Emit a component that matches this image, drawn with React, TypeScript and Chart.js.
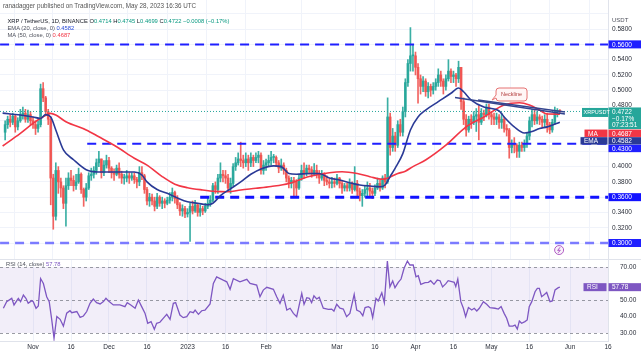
import React, { useEffect, useRef } from "react";
import { Chart, registerables } from "chart.js";
Chart.register(...registerables);

const FONT = "'Liberation Sans', Arial, sans-serif";

// day index: 0 = 2022-11-01 ; first candle 2022-10-21
const FIRST_DAY = -11;
const FIRST_OPEN = 0.445;
const closes = [
  0.455, 0.462, 0.458, 0.466, 0.452, 0.46, 0.468, 0.47, 0.462, 0.468, 0.46,
  0.455, 0.45, 0.455, 0.502, 0.49, 0.472, 0.462, 0.385, 0.335, 0.395,
  0.38, 0.372, 0.352, 0.375, 0.385, 0.382, 0.375, 0.38, 0.39, 0.37,
  0.36, 0.372, 0.388, 0.39, 0.395, 0.405, 0.41, 0.392, 0.402, 0.408,
  0.398, 0.392, 0.39, 0.398, 0.39, 0.385, 0.385, 0.388, 0.385, 0.388,
  0.383, 0.38, 0.392, 0.388, 0.37, 0.355, 0.36, 0.355, 0.348, 0.36,
  0.352, 0.355, 0.352, 0.356, 0.36, 0.366, 0.358, 0.35, 0.342, 0.345,
  0.338, 0.34, 0.348, 0.342, 0.35, 0.34, 0.345, 0.342, 0.348, 0.352,
  0.356, 0.375, 0.37, 0.385, 0.39, 0.388, 0.385, 0.372, 0.378, 0.4,
  0.405, 0.41, 0.408, 0.405, 0.41, 0.405, 0.412, 0.408, 0.412, 0.415,
  0.395, 0.402, 0.405, 0.408, 0.412, 0.412, 0.405, 0.398, 0.402, 0.395,
  0.385, 0.378, 0.382, 0.38, 0.372, 0.385, 0.395, 0.392, 0.398, 0.396,
  0.39, 0.395, 0.39, 0.385, 0.39, 0.382, 0.38, 0.378, 0.38, 0.378,
  0.385, 0.378, 0.372, 0.375, 0.372, 0.378, 0.37, 0.378, 0.368, 0.362,
  0.365, 0.37, 0.372, 0.368, 0.365, 0.372, 0.378, 0.372, 0.385, 0.38,
  0.465, 0.425, 0.44, 0.428, 0.455, 0.445, 0.472, 0.51, 0.535, 0.545,
  0.545, 0.53, 0.515, 0.505, 0.512, 0.498, 0.505, 0.5, 0.505, 0.51,
  0.52, 0.512, 0.505, 0.515, 0.525, 0.518, 0.52, 0.515, 0.53, 0.485,
  0.462, 0.448, 0.462, 0.458, 0.466, 0.468, 0.458, 0.47, 0.468, 0.478,
  0.468, 0.465, 0.462, 0.465, 0.458, 0.462, 0.45, 0.448, 0.425, 0.43,
  0.428, 0.42, 0.428, 0.425, 0.43, 0.44, 0.46, 0.468, 0.46, 0.465,
  0.462, 0.458, 0.462, 0.455, 0.448, 0.458, 0.472, 0.473, 0.4722,
];
const highs = [
  0.46, 0.466, 0.468, 0.47, 0.468, 0.464, 0.475, 0.478, 0.475, 0.474, 0.472,
  0.465, 0.46, 0.46, 0.508, 0.51, 0.492, 0.475, 0.465, 0.39, 0.405,
  0.4, 0.385, 0.375, 0.385, 0.392, 0.395, 0.388, 0.39, 0.398, 0.392,
  0.372, 0.378, 0.392, 0.398, 0.4, 0.41, 0.42, 0.41, 0.408, 0.415,
  0.412, 0.4, 0.397, 0.402, 0.405, 0.394, 0.39, 0.395, 0.392, 0.392,
  0.392, 0.386, 0.4, 0.4, 0.39, 0.373, 0.365, 0.364, 0.36, 0.365,
  0.362, 0.36, 0.358, 0.36, 0.366, 0.372, 0.368, 0.362, 0.353, 0.35,
  0.348, 0.345, 0.352, 0.355, 0.356, 0.352, 0.35, 0.348, 0.352, 0.36,
  0.362, 0.378, 0.38, 0.39, 0.405, 0.395, 0.395, 0.39, 0.385, 0.404,
  0.412, 0.418, 0.432, 0.415, 0.418, 0.415, 0.418, 0.415, 0.418, 0.42,
  0.418, 0.408, 0.41, 0.415, 0.42, 0.416, 0.414, 0.408, 0.41, 0.405,
  0.398, 0.388, 0.386, 0.386, 0.383, 0.39, 0.402, 0.405, 0.402, 0.402,
  0.4, 0.404, 0.402, 0.395, 0.395, 0.392, 0.388, 0.384, 0.386, 0.385,
  0.39, 0.386, 0.382, 0.378, 0.378, 0.384, 0.38, 0.4, 0.382, 0.372,
  0.37, 0.375, 0.38, 0.378, 0.372, 0.376, 0.385, 0.382, 0.388, 0.39,
  0.49, 0.47, 0.45, 0.445, 0.46, 0.462, 0.478, 0.515, 0.54, 0.582,
  0.56, 0.55, 0.535, 0.52, 0.518, 0.515, 0.51, 0.508, 0.51, 0.515,
  0.528, 0.525, 0.515, 0.52, 0.54, 0.528, 0.525, 0.522, 0.538, 0.53,
  0.49, 0.468, 0.466, 0.468, 0.472, 0.476, 0.48, 0.476, 0.474, 0.482,
  0.482, 0.472, 0.47, 0.47, 0.468, 0.47, 0.465, 0.455, 0.45, 0.435,
  0.438, 0.43, 0.432, 0.432, 0.435, 0.445, 0.465, 0.475, 0.475, 0.472,
  0.468, 0.466, 0.468, 0.47, 0.458, 0.462, 0.478, 0.476, 0.4745,
];
const lows = [
  0.435, 0.45, 0.452, 0.455, 0.445, 0.448, 0.458, 0.462, 0.458, 0.458, 0.455,
  0.45, 0.442, 0.445, 0.452, 0.485, 0.468, 0.455, 0.35, 0.318, 0.33,
  0.365, 0.36, 0.345, 0.322, 0.37, 0.375, 0.368, 0.37, 0.378, 0.365,
  0.348, 0.355, 0.37, 0.382, 0.385, 0.39, 0.4, 0.385, 0.388, 0.398,
  0.392, 0.385, 0.382, 0.388, 0.385, 0.378, 0.377, 0.38, 0.378, 0.382,
  0.378, 0.372, 0.375, 0.383, 0.365, 0.35, 0.348, 0.35, 0.342, 0.345,
  0.348, 0.345, 0.346, 0.35, 0.352, 0.355, 0.352, 0.345, 0.336, 0.335,
  0.333, 0.334, 0.302, 0.338, 0.34, 0.335, 0.335, 0.337, 0.34, 0.345,
  0.348, 0.354, 0.365, 0.365, 0.38, 0.38, 0.378, 0.368, 0.365, 0.375,
  0.395, 0.402, 0.4, 0.398, 0.4, 0.395, 0.4, 0.4, 0.405, 0.405,
  0.39, 0.39, 0.395, 0.4, 0.402, 0.405, 0.4, 0.392, 0.395, 0.39,
  0.38, 0.372, 0.372, 0.362, 0.36, 0.37, 0.382, 0.385, 0.388, 0.39,
  0.386, 0.388, 0.385, 0.378, 0.382, 0.375, 0.376, 0.372, 0.372, 0.373,
  0.376, 0.372, 0.365, 0.368, 0.368, 0.368, 0.365, 0.368, 0.362, 0.355,
  0.348, 0.36, 0.362, 0.36, 0.358, 0.362, 0.37, 0.368, 0.37, 0.372,
  0.378, 0.415, 0.42, 0.42, 0.425, 0.44, 0.44, 0.465, 0.505, 0.525,
  0.525, 0.52, 0.483, 0.495, 0.498, 0.492, 0.49, 0.492, 0.495, 0.5,
  0.505, 0.505, 0.495, 0.5, 0.512, 0.51, 0.51, 0.505, 0.51, 0.475,
  0.455, 0.44, 0.445, 0.45, 0.455, 0.446, 0.435, 0.455, 0.46, 0.465,
  0.462, 0.455, 0.455, 0.455, 0.45, 0.45, 0.445, 0.44, 0.411, 0.418,
  0.418, 0.412, 0.412, 0.42, 0.42, 0.425, 0.435, 0.452, 0.455, 0.456,
  0.455, 0.452, 0.452, 0.445, 0.443, 0.445, 0.455, 0.465, 0.4699,
];

const emaDays = [-12, -5, 0, 3, 5, 7, 9, 12, 16, 21, 26, 33, 40, 43, 45, 49, 53, 57, 61, 65, 69, 71, 74, 78, 82, 86, 90, 95, 98, 101, 104, 109, 113, 117, 121, 125, 129, 133, 137, 139, 141, 143, 146, 149, 152, 155, 160, 165, 168, 170, 173, 178, 184, 186, 190, 194, 197, 200, 203, 208];
const emaVals = [0.47, 0.4675, 0.465, 0.463, 0.468, 0.465, 0.448, 0.422, 0.409, 0.396, 0.393, 0.393, 0.393, 0.389, 0.38, 0.37, 0.365, 0.359, 0.354, 0.352, 0.35, 0.352, 0.362, 0.371, 0.38, 0.39, 0.397, 0.401, 0.4, 0.391, 0.39, 0.391, 0.391, 0.385, 0.3825, 0.379, 0.376, 0.3746, 0.3737, 0.376, 0.387, 0.398, 0.417, 0.448, 0.465, 0.474, 0.485, 0.496, 0.503, 0.498, 0.487, 0.478, 0.473, 0.465, 0.452, 0.444, 0.446, 0.45, 0.452, 0.4582];
const maDays = [-12, -5, 0, 4, 7, 9, 13, 21, 26, 33, 40, 45, 51, 56, 61, 67, 72, 77, 82, 88, 94, 101, 109, 117, 122, 128, 133, 138, 144, 147, 150, 155, 163, 171, 178, 186, 192, 196, 200, 203, 208];
const maVals = [0.427, 0.4436, 0.4567, 0.4653, 0.4697, 0.4675, 0.4588, 0.448, 0.439, 0.426, 0.411, 0.402, 0.387, 0.377, 0.3724, 0.3694, 0.3676, 0.3671, 0.3694, 0.3716, 0.374, 0.378, 0.387, 0.392, 0.3933, 0.391, 0.3868, 0.3834, 0.391, 0.394, 0.4, 0.4086, 0.428, 0.452, 0.465, 0.4806, 0.4836, 0.4806, 0.474, 0.4688, 0.4687];

const rsiDays = [-11.7, -10.4, -8.4, -7.5, -5.8, -4.9, -3.8, -2.8, -1.9, -0.5, 0.1, 1.2, 2.1, 3.0, 4.1, 5.4, 6.4, 7.4, 8.3, 9.4, 10.7, 12.0, 13.3, 14.6, 15.3, 17.3, 18.6, 19.9, 21.2, 22.5, 23.8, 25.1, 26.5, 27.8, 28.8, 29.7, 31.7, 34.3, 36.3, 37.2, 38.6, 40.3, 41.6, 42.9, 44.2, 45.3, 46.6, 47.9, 48.8, 50.1, 51.4, 52.8, 54.1, 55.4, 56.3, 58.0, 59.3, 60.7, 62.0, 63.3, 64.0, 65.3, 66.6, 67.9, 69.9, 71.2, 72.5, 75.1, 76.5, 77.8, 79.1, 81.7, 84.4, 85.7, 88.3, 89.6, 90.9, 92.3, 94.9, 96.2, 97.5, 98.8, 100.2,
  101.5, 102.8, 104.1, 106.1, 107.0, 108.1, 109.1, 110.0, 110.9, 112.0, 113.0, 114.6, 116.6, 117.9, 118.8, 119.9, 121.2, 122.5, 123.8, 125.1, 126.8, 127.8, 129.1, 130.2, 131.1, 132.4, 133.3, 134.1, 135.4, 136.3, 137.7, 138.7, 139.9, 140.9, 142.0, 142.9, 144.2, 145.3, 146.5, 147.8, 148.8, 150.1, 151.2, 152.1, 153.1, 154.8, 156.1, 157.0, 158.3, 159.6, 160.7, 161.7, 163.0, 163.9, 165.3, 166.3, 166.9, 167.7, 168.9, 169.9, 170.8, 171.9, 173.2, 174.2, 175.2, 176.2, 177.8, 179.1, 180.4, 182.4, 183.7, 184.8, 186.0, 187.0, 188.0, 189.4, 190.3, 191.2, 192.0, 192.9, 194.2, 195.1, 195.9, 196.9, 198.2, 199.1, 199.9, 200.8, 201.9, 202.8, 204.1, 205.0, 206.1, 207.4, 208.0];
const rsiVals = [45.0, 49, 51, 47, 51, 49, 53, 51, 48, 49.6, 49, 45, 46.4, 63, 60, 52, 49, 38, 26.8, 40, 38.3, 34.2, 42, 43.5, 42.3, 43, 39.5, 40.3, 43, 48, 50.6, 48.4, 47.6, 49, 51, 49.6, 47, 47, 46, 48.4, 47, 45, 50, 46, 42, 35.9, 36.9, 32.2, 35.9, 36.5, 38.9, 41.3, 38.3, 48, 48.4, 40.9, 39.3, 39.9, 42.9, 42.3, 43.9, 41.3, 43.5, 43.9, 47.6, 60, 64, 62, 61, 56.5, 63, 61, 62.5, 60, 59, 52, 56, 57.7, 56.5, 52, 48, 53, 43.9,
  45, 41.9, 39.9, 54, 47.4, 51.4, 51, 48.4, 52.6, 50.6, 51.6, 45, 44.3, 44.5, 43.3, 47.4, 45, 44.5, 39.9, 41.9, 53.4, 43.9, 42.9, 40.5, 45.4, 46, 45, 39.3, 51, 49.4, 54.4, 48.4, 73.6, 58, 61.5, 57.5, 60.7, 62.7, 69.2, 73.6, 71.2, 71.2, 64.1, 64.7, 59.5, 60.5, 60.7, 61.7, 59.5, 62.1, 61.7, 57.9, 59.9, 61.7, 61.1, 60.7, 58.1, 62.7, 49, 45, 39.9, 45.4, 43.9, 45, 43.3, 45, 49, 47.4, 45.4, 45, 44.5, 46, 41.9, 38.9, 34.2, 34.2, 34.8, 32.4, 37.3, 35.9, 36.9, 37.9, 46, 49, 55, 57.1, 57.1, 52, 53.4, 54.6, 49, 49.4, 56.1, 57.5, 57.78];

const levels = [0.56, 0.43, 0.36, 0.3];
const levelStart = [-13, 21.4, 66, -13];
const levelColors = ["#1f1fff", "#1f1fff", "#1212ff", "#7b7bff"];
const levelWidths = [2, 2, 3, 2.5];
const lastPrice = 0.4722;
const lastMA = 0.4687;
const lastEMA = 0.4582;
const lastRSI = 57.78;
const neckA = [[166.6, 0.4904], [210.0, 0.4689]];
const neckB = [[175.7, 0.4872], [210.0, 0.4715]];
const calloutAt = [182.8, 0.5029];
const eventAt = [207.7, 0.2908];

const xTickDays = [0, 15, 30, 45, 61, 76, 92, 120, 135, 151, 166, 181, 196, 212, 227];
const xTickLabels = ["Nov", "16", "Dec", "16", "2023", "16", "Feb", "Mar", "16", "Apr", "16", "May", "16", "Jun", "16"];
const priceTicks = [0.3, 0.32, 0.34, 0.36, 0.38, 0.4, 0.42, 0.44, 0.46, 0.48, 0.5, 0.52, 0.54, 0.56, 0.58, 0.6];
const hiddenPriceLabels = [0.42, 0.44, 0.46, 0.6];
const rsiTicks = [30, 40, 50, 60, 70];

const X_MIN = -13.03, X_MAX = 227.0;
const P_MIN = 0.27906, P_MAX = 0.6181;
const R_MIN = 25.15, R_MAX = 74.85;

const GREEN = "rgba(38,166,154,0.9)";
const RED = "rgba(239,83,80,0.9)";

function tag(ctx: CanvasRenderingContext2D, x: number, yc: number, w: number, h: number, bg: string, text: string, fg = "#fff") {
  ctx.fillStyle = bg;
  ctx.fillRect(x, yc - h / 2, w, h);
  ctx.fillStyle = fg;
  ctx.font = `6.5px ${FONT}`;
  ctx.textAlign = "left";
  ctx.textBaseline = "middle";
  ctx.fillText(text, x + 3.5, yc + 0.5);
}

const noPad = (s: any) => {
  s.paddingTop = 0;
  s.paddingBottom = 0;
  s.paddingLeft = 0;
  s.paddingRight = 0;
};

export default function App() {
  const mainRef = useRef<HTMLCanvasElement>(null);
  const rsiRef = useRef<HTMLCanvasElement>(null);

  useEffect(() => {
    const opens = closes.map((c, i) => (i === 0 ? FIRST_OPEN : closes[i - 1]));
    const colors = closes.map((c, i) => (c >= opens[i] ? GREEN : RED));
    const bodyData = closes.map((c, i) => ({ x: FIRST_DAY + i, y: [opens[i], c] }));
    const wickData = closes.map((c, i) => ({ x: FIRST_DAY + i, y: [lows[i], highs[i]] }));
    const emaData = emaDays.map((d, i) => ({ x: d, y: emaVals[i] }));
    const maData = maDays.map((d, i) => ({ x: d, y: maVals[i] }));
    const rsiData = rsiDays.map((d, i) => ({ x: d, y: rsiVals[i] }));

    const xGrid = {
      type: "linear" as const,
      min: X_MIN,
      max: X_MAX,
      offset: false,
      afterBuildTicks: (s: any) => { s.ticks = xTickDays.map((v) => ({ value: v })); },
      grid: { color: "#f0f3fa", drawTicks: false, lineWidth: 1 },
    };

    const mainPlugin = {
      id: "mainOverlay",
      afterDraw(chart: any) {
        const { ctx, scales } = chart;
        const x = scales.x, y = scales.y;
        ctx.save();
        // neckline callout
        const cx = x.getPixelForValue(calloutAt[0]);
        const cy = y.getPixelForValue(calloutAt[1]);
        ctx.beginPath();
        ctx.moveTo(cx + 3, cy);
        ctx.lineTo(cx + 28, cy);
        ctx.quadraticCurveTo(cx + 31, cy, cx + 31, cy + 3);
        ctx.lineTo(cx + 31, cy + 10);
        ctx.quadraticCurveTo(cx + 31, cy + 13, cx + 28, cy + 13);
        ctx.lineTo(cx + 3, cy + 13);
        ctx.quadraticCurveTo(cx, cy + 13, cx, cy + 10);
        ctx.lineTo(cx - 4, cy + 12);
        ctx.lineTo(cx, cy + 7);
        ctx.lineTo(cx, cy + 3);
        ctx.quadraticCurveTo(cx, cy, cx + 3, cy);
        ctx.closePath();
        ctx.fillStyle = "#fff6f6";
        ctx.fill();
        ctx.strokeStyle = "#e57373";
        ctx.lineWidth = 1;
        ctx.stroke();
        ctx.fillStyle = "#b23a3a";
        ctx.font = `5.5px ${FONT}`;
        ctx.textAlign = "center";
        ctx.textBaseline = "middle";
        ctx.fillText("Neckline", cx + 15.5, cy + 6.8);

        // event icon
        const ex = x.getPixelForValue(eventAt[0]);
        const ey = y.getPixelForValue(eventAt[1]);
        ctx.beginPath();
        ctx.arc(ex, ey, 4.5, 0, Math.PI * 2);
        ctx.fillStyle = "rgba(171,71,188,0.08)";
        ctx.fill();
        ctx.strokeStyle = "#b05cc4";
        ctx.lineWidth = 1;
        ctx.stroke();
        ctx.beginPath();
        ctx.moveTo(ex + 1, ey - 2.8);
        ctx.lineTo(ex - 1.5, ey + 0.4);
        ctx.lineTo(ex + 1.2, ey + 0.2);
        ctx.lineTo(ex - 1, ey + 2.8);
        ctx.stroke();

        // axis tags
        const AX = 608.5, AW = 32.5;
        tag(ctx, AX, y.getPixelForValue(0.56), AW, 8, "#1f1fff", "0.5600");
        tag(ctx, AX, y.getPixelForValue(0.36), AW, 8, "#1212ff", "0.3600");
        tag(ctx, AX, y.getPixelForValue(0.3), AW, 8, "#1f1fff", "0.3000");
        const yp = y.getPixelForValue(lastPrice);
        ctx.fillStyle = "#26a69a";
        ctx.fillRect(AX, yp - 4, AW, 21.6);
        ctx.fillRect(582, yp - 3.5, 26, 9);
        ctx.fillStyle = "#fff";
        ctx.font = `6.5px ${FONT}`;
        ctx.textAlign = "left";
        ctx.textBaseline = "middle";
        ctx.fillText(lastPrice.toFixed(4), AX + 3.5, yp + 0.5);
        ctx.fillText("\u22120.17%", AX + 3.5, yp + 7.3);
        ctx.fillText("07:23:51", AX + 3.5, yp + 14.1);
        ctx.font = `5.5px ${FONT}`;
        ctx.fillText("XRPUSDT", 583.5, yp + 1.2);
        tag(ctx, AX, yp + 21.8, AW, 7.4, "#f23645", lastMA.toFixed(4));
        tag(ctx, 584.5, yp + 21.8, 23, 7.4, "#f23645", "MA");
        tag(ctx, AX, yp + 29.4, AW, 7.4, "#2a3a96", lastEMA.toFixed(4));
        tag(ctx, 580.5, yp + 29.4, 27, 7.4, "#2a3a96", "EMA");
        tag(ctx, AX, yp + 37, AW, 7.4, "#1f1fff", "0.4300");
        ctx.fillStyle = "#50535e";
        ctx.font = `6px ${FONT}`;
        ctx.fillText("USDT", 612, 20);
        ctx.restore();
      },
    };

    const main = new Chart(mainRef.current as HTMLCanvasElement, {
      type: "bar",
      data: {
        datasets: [
          { type: "bar", data: wickData as any, backgroundColor: colors, barThickness: 1, grouped: false, order: 5 } as any,
          { type: "bar", data: bodyData as any, backgroundColor: colors, barThickness: 2, minBarLength: 1, grouped: false, order: 4 } as any,
          ...levels.map((lv, i) => ({
            type: "line",
            data: [{ x: levelStart[i], y: lv }, { x: X_MAX, y: lv }],
            borderColor: levelColors[i],
            borderWidth: levelWidths[i],
            borderDash: [9, 6],
            pointRadius: 0,
            order: 3,
          })) as any,
          { type: "line", data: [{ x: X_MIN, y: lastPrice }, { x: X_MAX, y: lastPrice }], borderColor: "#26a69a", borderWidth: 1, borderDash: [1, 2], pointRadius: 0, order: 3 } as any,
          { type: "line", data: maData, borderColor: "#f23645", borderWidth: 1.6, pointRadius: 0, cubicInterpolationMode: "monotone", order: 2 } as any,
          { type: "line", data: emaData, borderColor: "#2a3a96", borderWidth: 1.6, pointRadius: 0, cubicInterpolationMode: "monotone", order: 1 } as any,
          { type: "line", data: neckA.map(([d, p]) => ({ x: d, y: p })), borderColor: "#34458f", borderWidth: 1.5, pointRadius: 0, order: 0 } as any,
          { type: "line", data: neckB.map(([d, p]) => ({ x: d, y: p })), borderColor: "#34458f", borderWidth: 1.5, pointRadius: 0, order: 0 } as any,
        ],
      },
      options: {
        animation: false,
        responsive: true,
        maintainAspectRatio: false,
        events: [],
        layout: { padding: 0 },
        plugins: { legend: { display: false }, tooltip: { enabled: false } },
        scales: {
          x: { ...xGrid, ticks: { display: false }, border: { display: false }, afterFit: (s: any) => { s.height = 0; noPad(s); } } as any,
          y: {
            position: "right",
            min: P_MIN,
            max: P_MAX,
            afterBuildTicks: (s: any) => { s.ticks = priceTicks.map((v) => ({ value: v })); },
            afterFit: (s: any) => { s.width = 33; noPad(s); },
            grid: { color: "#f0f3fa", drawTicks: false },
            border: { display: true, color: "#e0e3eb" },
            ticks: {
              padding: 4,
              color: "#2a2e39",
              font: { size: 6.5, family: FONT },
              callback: (v: any) => (hiddenPriceLabels.some((h) => Math.abs(h - v) < 1e-6) ? "" : Number(v).toFixed(4)),
            },
          } as any,
        },
      },
      plugins: [mainPlugin],
    });

    const rsiPlugin = {
      id: "rsiOverlay",
      beforeDatasetsDraw(chart: any) {
        const { ctx, chartArea, scales } = chart;
        const y = scales.y;
        ctx.save();
        const y70 = y.getPixelForValue(70), y30 = y.getPixelForValue(30);
        ctx.fillStyle = "rgba(126,87,194,0.1)";
        ctx.fillRect(chartArea.left, y70, chartArea.right - chartArea.left, y30 - y70);
        ctx.strokeStyle = "rgba(120,123,134,0.75)";
        ctx.lineWidth = 1;
        ctx.setLineDash([3, 3]);
        [70, 50, 30].forEach((lv) => {
          const yy = Math.round(y.getPixelForValue(lv)) + 0.5;
          ctx.beginPath();
          ctx.moveTo(chartArea.left, yy);
          ctx.lineTo(chartArea.right, yy);
          ctx.stroke();
        });
        ctx.restore();
      },
      afterDraw(chart: any) {
        const { ctx, scales } = chart;
        const y = scales.y;
        ctx.save();
        ctx.strokeStyle = "#e0e3eb";
        ctx.lineWidth = 1;
        ctx.beginPath();
        ctx.moveTo(0, 0.5);
        ctx.lineTo(641, 0.5);
        ctx.stroke();
        const yr = y.getPixelForValue(lastRSI);
        tag(ctx, 608.5, yr, 32.5, 8, "#7e57c2", lastRSI.toFixed(2));
        tag(ctx, 583.5, yr, 23, 8, "#7e57c2", "RSI");
        ctx.restore();
      },
    };

    const rsi = new Chart(rsiRef.current as HTMLCanvasElement, {
      type: "line",
      data: {
        datasets: [
          { data: rsiData, borderColor: "#7e57c2", borderWidth: 1.3, pointRadius: 0, tension: 0 } as any,
        ],
      },
      options: {
        animation: false,
        responsive: true,
        maintainAspectRatio: false,
        events: [],
        layout: { padding: 0 },
        plugins: { legend: { display: false }, tooltip: { enabled: false } },
        scales: {
          x: {
            ...xGrid,
            border: { display: true, color: "#e0e3eb" },
            afterFit: (s: any) => { s.height = 12; noPad(s); },
            ticks: {
              autoSkip: false,
              maxRotation: 0,
              padding: 2,
              color: "#2a2e39",
              font: { size: 6.5, family: FONT },
              callback: (_v: any, i: number) => xTickLabels[i],
            },
          } as any,
          y: {
            position: "right",
            min: R_MIN,
            max: R_MAX,
            afterBuildTicks: (s: any) => { s.ticks = rsiTicks.map((v) => ({ value: v })); },
            afterFit: (s: any) => { s.width = 33; noPad(s); },
            grid: { display: false },
            border: { display: true, color: "#e0e3eb" },
            ticks: {
              padding: 4,
              color: "#2a2e39",
              font: { size: 6.5, family: FONT },
              callback: (v: any) => (Number(v) === 60 ? "" : Number(v).toFixed(2)),
            },
          } as any,
        },
      },
      plugins: [rsiPlugin],
    });

    return () => {
      main.destroy();
      rsi.destroy();
    };
  }, []);

  const teal = "#089981";
  const txt: React.CSSProperties = { position: "absolute", whiteSpace: "nowrap", fontFamily: FONT, lineHeight: "8px" };

  return (
    <div style={{ position: "fixed", left: 0, top: 0, width: 641, height: 353, background: "#fff", overflow: "hidden" }}>
      <div style={{ position: "absolute", left: 0, top: 0, width: 641, height: 259 }}>
        <canvas ref={mainRef} />
      </div>
      <div style={{ position: "absolute", left: 0, top: 259, width: 641, height: 94 }}>
        <canvas ref={rsiRef} />
      </div>
      <div style={{ ...txt, left: 3, top: 2, fontSize: 6.3, color: "#555" }}>
        ranadagger published on TradingView.com, May 28, 2023 16:36 UTC
      </div>
      <div style={{ ...txt, left: 7.5, top: 17, fontSize: 5.8, color: "#131722" }}>
        XRP / TetherUS, 1D, BINANCE{"  "}
        <span> O</span><span style={{ color: teal }}>0.4714</span>
        <span> H</span><span style={{ color: teal }}>0.4745</span>
        <span> L</span><span style={{ color: teal }}>0.4699</span>
        <span> C</span><span style={{ color: teal }}>0.4722</span>
        <span style={{ color: teal }}> {"\u22120.0008 (\u22120.17%)"}</span>
      </div>
      <div style={{ ...txt, left: 7.5, top: 24, fontSize: 5.8, color: "#50535e" }}>
        EMA (20, close, 0) <span style={{ color: "#2a4bd7" }}>0.4582</span>
      </div>
      <div style={{ ...txt, left: 7.5, top: 31, fontSize: 5.8, color: "#50535e" }}>
        MA (50, close, 0) <span style={{ color: "#f23645" }}>0.4687</span>
      </div>
      <div style={{ ...txt, left: 6, top: 260, fontSize: 5.8, color: "#50535e" }}>
        RSI (14, close) <span style={{ color: "#7e57c2" }}>57.78</span>
      </div>
    </div>
  );
}
